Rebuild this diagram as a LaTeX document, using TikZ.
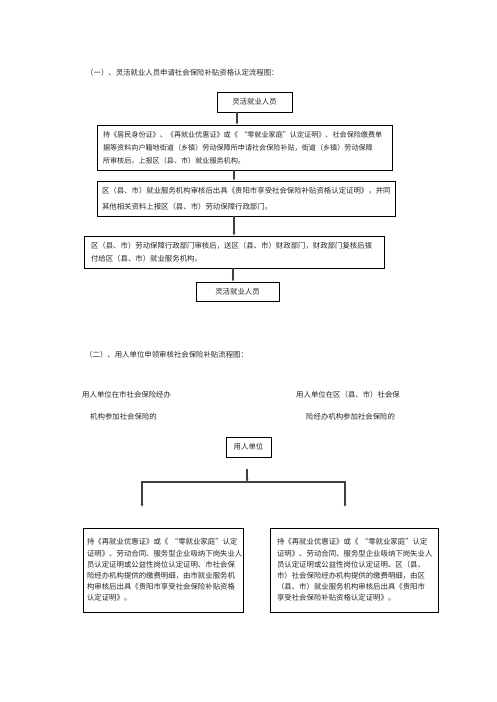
\documentclass[tikz,border=0pt]{standalone}
\usepackage{fontspec}
\usepackage{tikz}
\usetikzlibrary{arrows.meta, positioning}
\newfontfamily\cjk{Noto Sans CJK SC}

\begin{document}
\begin{tikzpicture}[
  x=1pt, y=-1pt,
  every node/.style={font=\cjk\fontsize{7.4}{13}\selectfont, text=black!85},
  flowbox/.style={draw, line width=0.9pt, inner sep=0pt, align=center},
  textbox/.style={draw, line width=0.9pt, inner xsep=8pt, inner ysep=0pt, align=left},
  caption/.style={anchor=west, inner sep=0pt, align=left},
  arrow/.style={-{Latex[width=3pt,length=3pt]}, line width=1.1pt, draw=black!75},
  link/.style={line width=1.1pt, draw=black!85}
]
\useasboundingbox (0,0) rectangle (496,702);

% Part one: flexible employment
\node[caption] (titleone) at (86,73) {（一）、灵活就业人员申请社会保险补贴资格认定流程图：};
\node[flowbox, minimum width=75pt, minimum height=20pt] (worker) at (254.5,102) {灵活就业人员};
\node[textbox, inner xsep=6pt, text width=283pt, minimum height=45pt, font=\cjk\fontsize{7.1}{13}\selectfont] (apply) at (244.5,147.5)
  {持《居民身份证》、《再就业优惠证》或《~“零就业家庭”认定证明》、社会保险缴费单\\
   据等资料向户籍地街道（乡镇）劳动保障所申请社会保险补贴，街道（乡镇）劳动保障\\
   所审核后，上报区（县、市）就业服务机构。};
\node[textbox, inner xsep=5pt, text width=288pt, minimum height=35pt, font=\cjk\fontsize{7.4}{16}\selectfont] (certify) at (246,198.5)
  {区（县、市）就业服务机构审核后出具《贵阳市享受社会保险补贴资格认定证明》，并同\\
   其他相关资料上报区（县、市）劳动保障行政部门。};
\node[textbox, inner xsep=7pt, text width=286pt, minimum height=32pt] (finance) at (234,252)
  {区（县、市）劳动保障行政部门审核后，送区（县、市）财政部门，财政部门复核后拨\\
   付给区（县、市）就业服务机构。};
\node[flowbox, minimum width=83pt, minimum height=19pt] (payee) at (237.5,291.5) {灵活就业人员};

\coordinate (stemone) at (237,0);
\coordinate (stemtwo) at (234,0);
\coordinate (stemthree) at (233,0);

% Arrows (part one)
\draw[arrow] (worker.south -| stemone) -- (apply.north -| stemone);
\draw[arrow] (apply.south -| stemtwo) -- (certify.north -| stemtwo);
\draw[arrow] (certify.south -| stemtwo) -- (finance.north -| stemtwo);
\draw[arrow] (finance.south -| stemthree) -- (payee.north -| stemthree);

% Part two: employers
\node[caption] (titletwo) at (85,355) {（二）、用人单位申领审核社会保险补贴流程图：};
\node[caption, anchor=north west, font=\cjk\fontsize{7.4}{22}\selectfont] (citynote) at (82,391)
  {用人单位在市社会保险经办\\\hspace*{8pt}机构参加社会保险的};
\node[caption, anchor=north west, font=\cjk\fontsize{7.4}{22}\selectfont] (countynote) at (296,391)
  {用人单位在区（县、市）社会保\\\hspace*{10pt}险经办机构参加社会保险的};
\node[flowbox, minimum width=45pt, minimum height=20pt] (employer) at (248.5,447) {用人单位};

\node[textbox, inner xsep=4pt, text width=152pt, minimum height=84pt, font=\cjk\fontsize{7.4}{11.2}\selectfont] (cityclaim) at (163,570)
  {持《再就业优惠证》或《~“零就业家庭”认定\\
   证明》、劳动合同、服务型企业吸纳下岗失业人\\
   员认定证明或公益性岗位认定证明、市社会保\\
   险经办机构提供的缴费明细，由市就业服务机\\
   构审核后出具《贵阳市享受社会保险补贴资格\\
   认定证明》。};
\node[textbox, inner xsep=7pt, text width=154pt, minimum height=84pt, font=\cjk\fontsize{7.4}{11.2}\selectfont] (countyclaim) at (354,570)
  {持《再就业优惠证》或《~“零就业家庭”认定\\
   证明》、劳动合同、服务型企业吸纳下岗失业人\\
   员认定证明或公益性岗位认定证明、区（县、\\
   市）社会保险经办机构提供的缴费明细，由区\\
   （县、市）就业服务机构审核后出具《贵阳市\\
   享受社会保险补贴资格认定证明》。};

\coordinate (stemtop) at (247,469);
\coordinate (split) at (247,482);
\coordinate (leftend) at (142,507);
\coordinate (rightend) at (345,507);

% Arrows (part two)
\draw[arrow] (stemtop) -- (split);
\draw[arrow] (split) -| (leftend);
\draw[arrow] (split) -| (rightend);
\end{tikzpicture}
\end{document}
